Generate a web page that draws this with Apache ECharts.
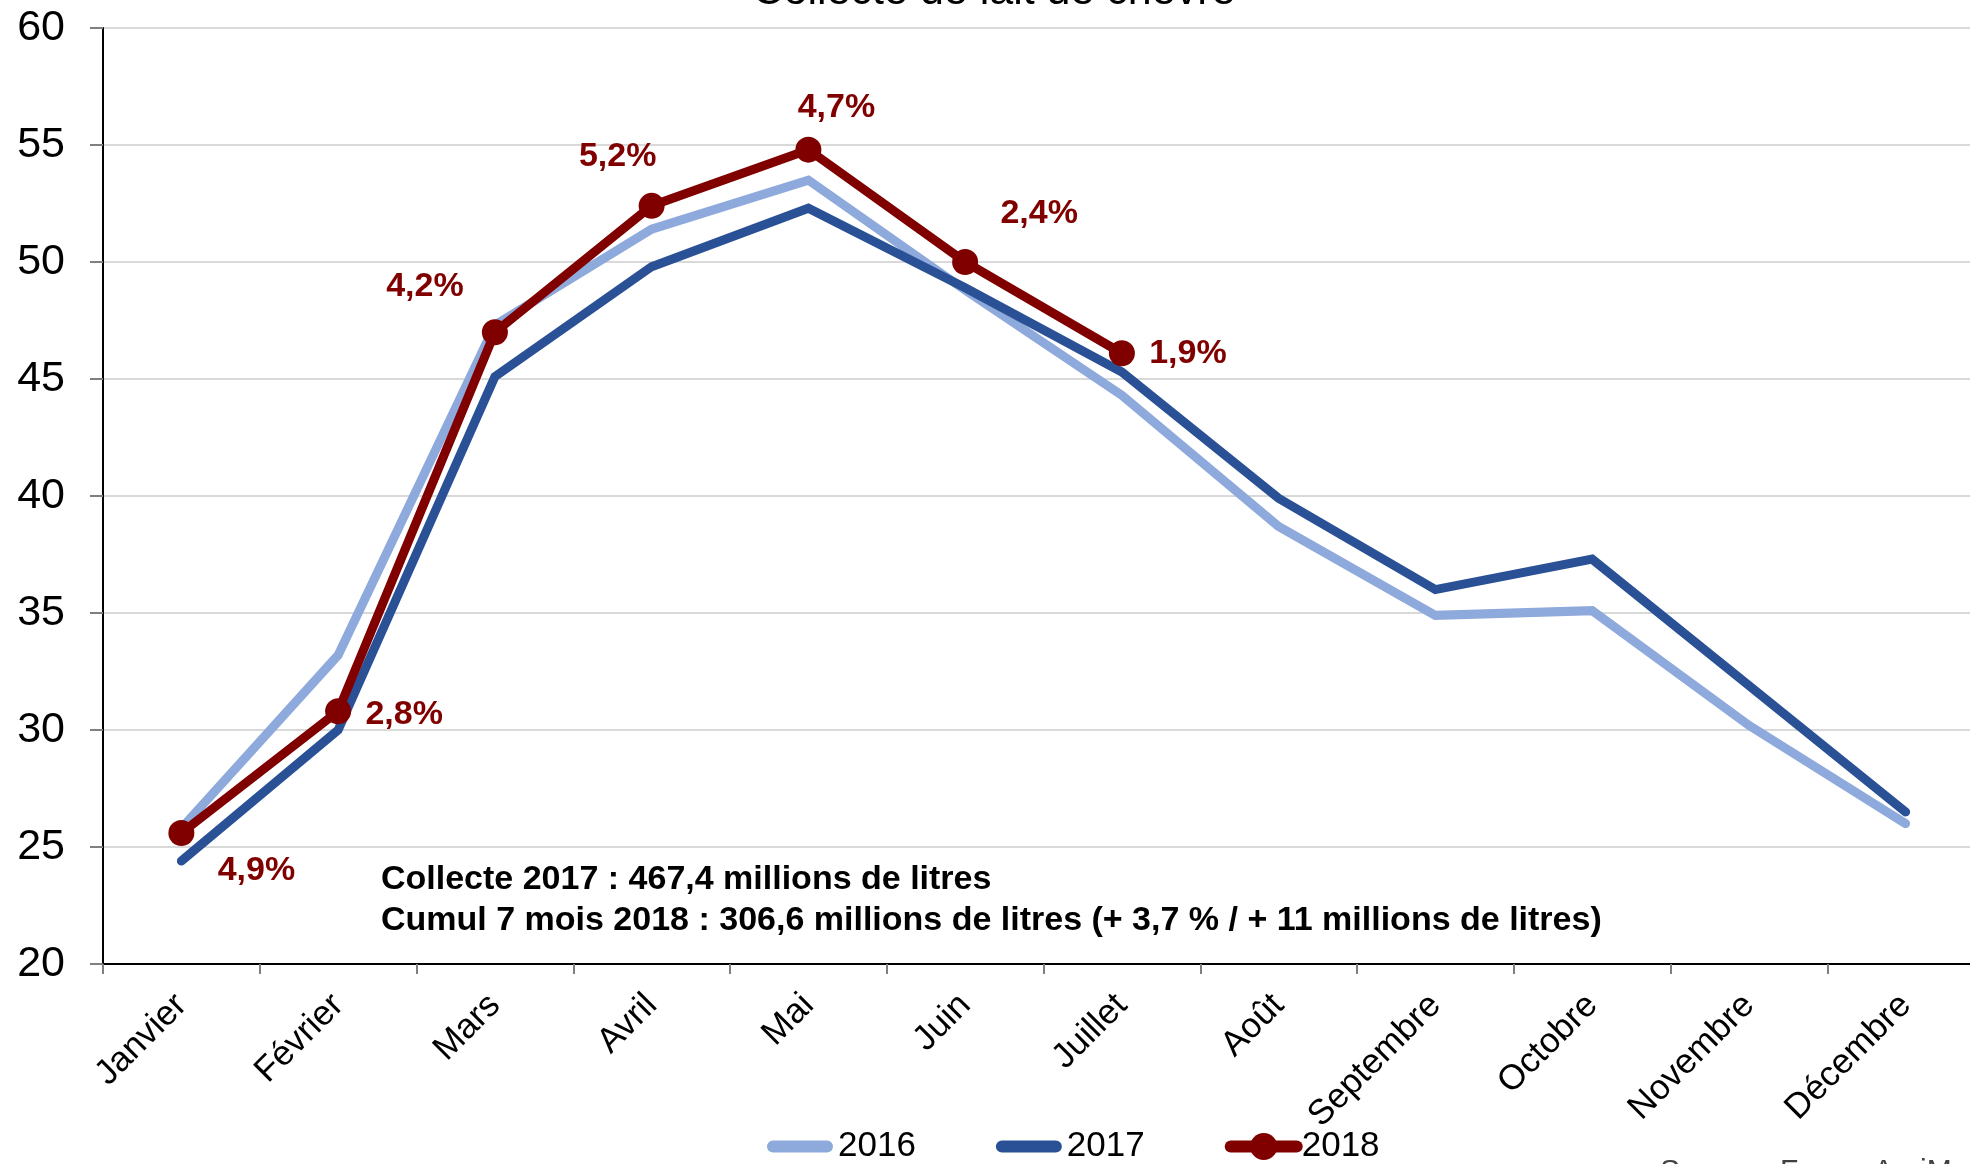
<!DOCTYPE html>
<html>
<head>
<meta charset="utf-8">
<title>Collecte de lait de chèvre</title>
<script src="https://cdn.jsdelivr.net/npm/echarts@6/dist/echarts.min.js"></script>
<style>
  html, body { margin: 0; padding: 0; background: #fff; overflow: hidden; }
  /* the plot runs a little past the right edge of the picture */
  #chart { width: 2000px; height: 1164px; }
</style>
</head>
<body>
<div id="chart"></div>
<script>
// données (millions de litres)
const months = ['Janvier', 'Février', 'Mars', 'Avril', 'Mai', 'Juin', 'Juillet', 'Août', 'Septembre', 'Octobre', 'Novembre', 'Décembre'];
const collecte2016 = [25.8, 33.2, 47.3, 51.4, 53.5, 48.8, 44.3, 38.7, 34.9, 35.1, 30.2, 26.0];
const collecte2017 = [24.4, 30.0, 45.1, 49.8, 52.3, 48.9, 45.3, 39.9, 36.0, 37.3, 31.9, 26.5];
const collecte2018 = [25.6, 30.8, 47.0, 52.4, 54.8, 50.0, 46.1];
const evolution2018 = ['4,9%', '2,8%', '4,2%', '5,2%', '4,7%', '2,4%', '1,9%'];

const font = "'Liberation Sans', Arial, sans-serif";
// décalage des étiquettes % par rapport au point
const labelShift = [[75, 38], [66, 3], [-70, -46], [-34, -49], [28, -42], [74, -48], [66, 0]];
// icône de légende "trait épais" (les petits carrés fixent la boîte 66x34)
const lineIcon = 'path://M0,0h0.1v0.1h-0.1z M66,34h-0.1v-0.1h0.1z M6,11h54a6,6 0 0 1 0,12h-54a6,6 0 0 1 0,-12z';

const chart = echarts.init(document.getElementById('chart'));
chart.setOption({
  animation: false,
  textStyle: { fontFamily: font },
  grid: { left: 103, top: 28, width: 1881, height: 936 },
  legend: {
    left: 767,
    top: 1129,
    padding: 0,
    itemWidth: 66,
    itemHeight: 34,
    itemGap: 80,
    lineStyle: { width: 12, cap: 'round' },
    textStyle: { fontSize: 35, color: '#000', fontFamily: font },
    data: [
      { name: '2016', icon: lineIcon },
      { name: '2017', icon: lineIcon },
      '2018'
    ]
  },
  xAxis: {
    type: 'category',
    data: months,
    boundaryGap: true,
    axisLine: { lineStyle: { color: '#000', width: 2 } },
    axisTick: { show: true, alignWithLabel: false, length: 10, lineStyle: { color: '#808080', width: 2 } },
    axisLabel: { interval: 0, rotate: 45, fontSize: 35, color: '#000', margin: 36, fontFamily: font }
  },
  yAxis: {
    type: 'value',
    min: 20,
    max: 60,
    interval: 5,
    axisLine: { show: true, lineStyle: { color: '#000', width: 2 } },
    axisTick: { show: true, length: 13, lineStyle: { color: '#808080', width: 2 } },
    axisLabel: { fontSize: 43, color: '#000', margin: 38, fontFamily: font },
    splitLine: { lineStyle: { color: '#D9D9D9', width: 2 } }
  },
  series: [
    {
      name: '2016',
      type: 'line',
      data: collecte2016,
      symbol: 'none',
      color: '#8EA9DB',
      lineStyle: { width: 9, cap: 'round', join: 'miter' }
    },
    {
      name: '2017',
      type: 'line',
      data: collecte2017,
      symbol: 'none',
      color: '#2A5196',
      lineStyle: { width: 9, cap: 'round', join: 'miter' }
    },
    {
      name: '2018',
      type: 'line',
      data: collecte2018.map((v, i) => ({ value: v, label: { offset: labelShift[i] } })),
      symbol: 'circle',
      symbolSize: 26,
      color: '#800000',
      lineStyle: { width: 9, cap: 'round', join: 'miter' },
      label: {
        show: true,
        position: 'inside',
        formatter: (p) => evolution2018[p.dataIndex],
        color: '#800000',
        fontSize: 34,
        fontWeight: 'bold',
        fontFamily: font
      }
    }
  ],
  graphic: [
    {
      type: 'text',
      x: 994,
      y: -8,
      style: { text: 'Collecte de lait de chèvre', font: '43px ' + font, fill: '#000', align: 'center', verticalAlign: 'middle' }
    },
    {
      type: 'text',
      x: 381,
      y: 900,
      style: {
        text: 'Collecte 2017 : 467,4 millions de litres\nCumul 7 mois 2018 : 306,6 millions de litres (+ 3,7 % / + 11 millions de litres)',
        font: 'bold 34px ' + font,
        lineHeight: 41,
        fill: '#000',
        align: 'left',
        verticalAlign: 'middle'
      }
    },
    {
      type: 'text',
      x: 1660,
      y: 1157,
      style: { text: 'Source : FranceAgriMer', font: '30px ' + font, fill: '#404040', align: 'left', verticalAlign: 'top' }
    }
  ]
});
</script>
</body>
</html>
